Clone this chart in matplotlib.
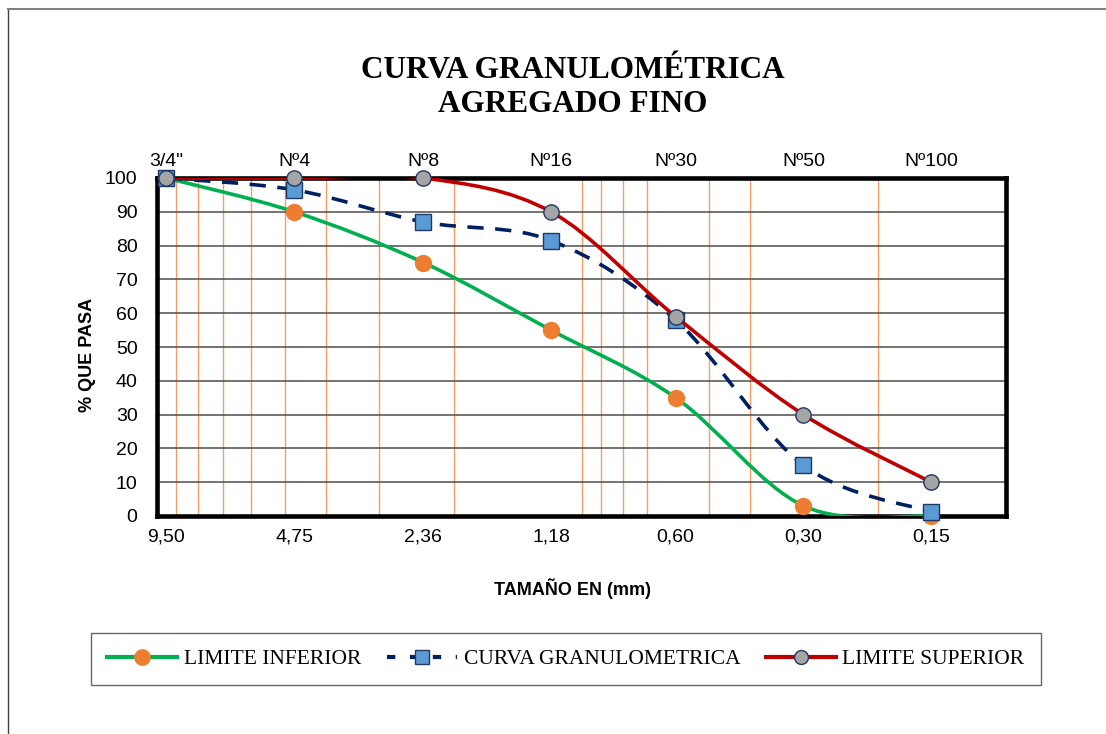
import numpy as np
import matplotlib.pyplot as plt
from matplotlib.path import Path
from matplotlib.patches import PathPatch
from matplotlib.lines import Line2D
from matplotlib.ticker import LogLocator, NullFormatter, NullLocator

# sieve openings (mm) and labels
tamiz_mm = [9.50, 4.75, 2.36, 1.18, 0.60, 0.30, 0.15]
etiq_mm = ["9,50", "4,75", "2,36", "1,18", "0,60", "0,30", "0,15"]
etiq_tamiz = ['3/4"', "Nº4", "Nº8", "Nº16", "Nº30", "Nº50", "Nº100"]

lim_inf = [100, 90, 75, 55, 35, 3, 0]
curva = [100, 96.5, 87, 81.5, 58, 15, 1.2]
lim_sup = [100, 100, 100, 90, 59, 30, 10]

W, H = 1106, 734


def smooth_path(x, y):
    # excel-like smoothed line: cubic bezier, control points from neighbours
    # computed in log10(x) space, converted back so the log scale maps them
    u = np.log10(x)
    y = np.asarray(y, float)
    n = len(u)
    verts = [(x[0], y[0])]
    codes = [Path.MOVETO]
    for i in range(n - 1):
        i0 = max(i - 1, 0)
        i3 = min(i + 2, n - 1)
        c1u = u[i] + (u[i + 1] - u[i0]) / 6
        c1y = y[i] + (y[i + 1] - y[i0]) / 6
        c2u = u[i + 1] - (u[i3] - u[i]) / 6
        c2y = y[i + 1] - (y[i3] - y[i]) / 6
        verts += [(10 ** c1u, c1y), (10 ** c2u, c2y), (x[i + 1], y[i + 1])]
        codes += [Path.CURVE4] * 3
    return Path(verts, codes)


fig = plt.figure(figsize=(W / 100, H / 100), dpi=100)
ax = fig.add_axes([157 / W, 1 - 516 / H, 849 / W, 338 / H])
ax.set_xscale("log")
ax.set_xlim(10, 0.1)
ax.set_ylim(0, 100)

# grid
ax.xaxis.set_minor_locator(LogLocator(base=10, subs=np.arange(1, 10)))
ax.xaxis.set_minor_formatter(NullFormatter())
ax.grid(True, axis="x", which="minor", color="#ED7D31", lw=1.0, alpha=0.75)
ax.set_yticks(np.arange(0, 101, 10))
ax.grid(True, axis="y", which="major", color="#4d4d4d", lw=1.1)
ax.set_axisbelow(True)

ax.set_xticks(tamiz_mm)
ax.set_xticklabels(etiq_mm)
ax.tick_params(axis="both", which="both", length=0, labelsize=14)
ax.tick_params(axis="x", pad=9)
ax.tick_params(axis="y", pad=14)
for lab in ax.get_xticklabels() + ax.get_yticklabels():
    lab.set_fontfamily("Liberation Sans")

top = ax.secondary_xaxis("top")
top.set_xticks(tamiz_mm)
top.set_xticklabels(etiq_tamiz, fontfamily="Liberation Sans", fontsize=14)
top.xaxis.set_minor_locator(NullLocator())
top.xaxis.set_minor_formatter(NullFormatter())
top.tick_params(which="both", length=0, pad=6)
top.spines["top"].set_visible(False)

for s in ax.spines.values():
    s.set_linewidth(3.3)
    s.set_color("black")

# series
ax.add_patch(PathPatch(smooth_path(tamiz_mm, lim_inf), fill=False,
                       edgecolor="#00B050", lw=2.6, zorder=3))
ax.plot(tamiz_mm, lim_inf, ls="none", marker="o", ms=11.5,
        mfc="#ED7D31", mec="#ED7D31", zorder=4, clip_on=False)

ax.add_patch(PathPatch(smooth_path(tamiz_mm, curva), fill=False,
                       edgecolor="#002060", lw=2.6, ls=(0, (4.5, 3.2)),
                       zorder=5))
ax.plot(tamiz_mm, curva, ls="none", marker="s", ms=11,
        mfc="#5B9BD5", mec="#1F3864", mew=1.0, zorder=6, clip_on=False)

ax.add_patch(PathPatch(smooth_path(tamiz_mm, lim_sup), fill=False,
                       edgecolor="#C00000", lw=2.6, zorder=7))
ax.plot(tamiz_mm, lim_sup, ls="none", marker="o", ms=11,
        mfc="#A5A5A5", mec="#1F3864", mew=1.0, zorder=8, clip_on=False)

# titles
fig.text(573 / W, 1 - 70 / H, "CURVA GRANULOMÉTRICA", ha="center", va="center",
         fontsize=22.5, fontweight="bold", fontfamily="Liberation Serif")
fig.text(573 / W, 1 - 104 / H, "AGREGADO FINO", ha="center", va="center",
         fontsize=22.5, fontweight="bold", fontfamily="Liberation Serif")
fig.text(573 / W, 1 - 589 / H, "TAMAÑO EN (mm)", ha="center", va="center",
         fontsize=13, fontweight="bold", fontfamily="Liberation Sans")
fig.text(87 / W, 1 - 355 / H, "% QUE PASA", ha="center", va="center",
         rotation=90, fontsize=13, fontweight="bold",
         fontfamily="Liberation Sans")

# legend
handles = [
    Line2D([], [], color="#00B050", lw=3, marker="o", ms=11,
           mfc="#ED7D31", mec="#ED7D31"),
    Line2D([], [], color="#002060", lw=3, ls=(0, (2, 3.5)), marker="s", ms=10,
           mfc="#5B9BD5", mec="#1F3864"),
    Line2D([], [], color="#C00000", lw=3, marker="o", ms=10,
           mfc="#A5A5A5", mec="#1F3864"),
]
names = ["LIMITE INFERIOR", "CURVA GRANULOMETRICA", "LIMITE SUPERIOR"]
leg = fig.legend(handles, names, ncol=3, loc="center",
                 bbox_to_anchor=(566 / W, 1 - 659 / H),
                 bbox_transform=fig.transFigure,
                 frameon=True, fancybox=False, handlelength=3.25,
                 prop={"family": "Liberation Serif", "size": 15.5},
                 borderpad=0.75, borderaxespad=0, handletextpad=0.3,
                 columnspacing=1.2)
leg.get_frame().set_edgecolor("#404040")
leg.get_frame().set_linewidth(1.0)

# outer chart border
fig.add_artist(Line2D([8 / W, 8 / W], [0, 1 - 9 / H], transform=fig.transFigure,
                      color="#404040", lw=1.0))
fig.add_artist(Line2D([8 / W, 1], [1 - 9 / H, 1 - 9 / H],
                      transform=fig.transFigure, color="#808080", lw=1.5))

fig.savefig("out.png", dpi=100)
